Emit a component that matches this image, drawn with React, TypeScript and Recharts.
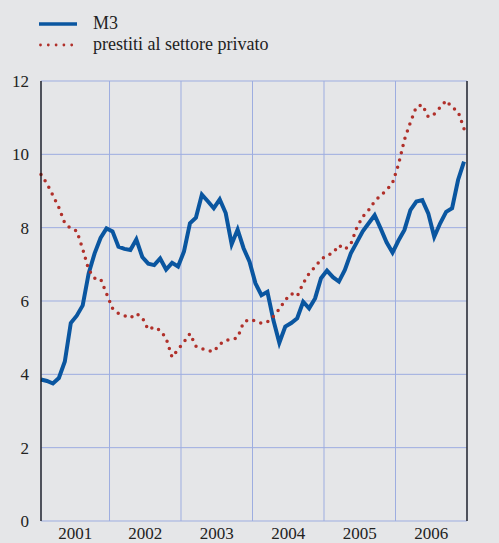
import React from "react";
import {
  CartesianGrid,
  Line,
  LineChart,
  XAxis,
  YAxis,
} from "recharts";

// monthly observations, Jan 2001 - Dec 2006
const m3 = [
  3.86, 3.82, 3.75, 3.9, 4.35, 5.4, 5.6, 5.88, 6.75, 7.3, 7.72, 7.98,
  7.9, 7.48, 7.42, 7.39, 7.68, 7.2, 7.02, 6.98, 7.16, 6.86, 7.04, 6.94,
  7.35, 8.12, 8.27, 8.9, 8.72, 8.53, 8.77, 8.4, 7.55, 7.95, 7.44, 7.07,
  6.48, 6.16, 6.25, 5.48, 4.86, 5.3, 5.4, 5.53, 5.98, 5.8, 6.07, 6.62,
  6.83, 6.65, 6.53, 6.85, 7.3, 7.6, 7.9, 8.12, 8.34, 7.98, 7.6, 7.32,
  7.65, 7.94, 8.48, 8.71, 8.75, 8.39, 7.75, 8.12, 8.43, 8.53, 9.3, 9.8,
];

const prestiti = [
  9.45, 9.2, 8.88, 8.55, 8.12, 7.98, 7.91, 7.42, 6.85, 6.62, 6.6, 6.2,
  5.8, 5.66, 5.6, 5.54, 5.66, 5.55, 5.22, 5.29, 5.2, 4.98, 4.47, 4.68,
  4.88, 5.11, 4.77, 4.7, 4.65, 4.62, 4.82, 4.93, 4.95, 5.0, 5.42, 5.5,
  5.45, 5.39, 5.43, 5.58, 5.78, 6.03, 6.2, 6.13, 6.48, 6.75, 6.93, 7.13,
  7.25, 7.3, 7.52, 7.41, 7.55, 8.0, 8.3, 8.48, 8.72, 8.88, 9.02, 9.22,
  9.72, 10.4, 10.87, 11.3, 11.35, 11.02, 11.1, 11.28, 11.47, 11.28, 11.17, 10.7,
];

const years = ["2001", "2002", "2003", "2004", "2005", "2006"];
const yearBounds = [0, 11.5, 23.5, 35.5, 47.5, 59.5, 71.5];
const yearCenters = [5.75, 17.5, 29.5, 41.5, 53.5, 65.5];
const yTicks = [0, 2, 4, 6, 8, 10, 12];

const data = m3.map((v, i) => ({ i, m3: v, prestiti: prestiti[i] }));

const BLUE = "#0a56a0";
const RED = "#b0302a";
const GRID = "#9dade0";
const FONT = "Liberation Serif, serif";

function LegendBox() {
  return (
    <div
      style={{
        position: "absolute",
        left: 39,
        top: 13,
        fontFamily: FONT,
        fontSize: 18,
        color: "#222",
        lineHeight: "21px",
      }}
    >
      <div style={{ display: "flex", alignItems: "center" }}>
        <svg width={54} height={21}>
          <line x1={0} x2={38} y1={11} y2={11} stroke={BLUE} strokeWidth={3.5} />
        </svg>
        <span>M3</span>
      </div>
      <div style={{ display: "flex", alignItems: "center" }}>
        <svg width={54} height={21}>
          <line
            x1={1.5}
            x2={38}
            y1={11}
            y2={11}
            stroke={RED}
            strokeWidth={2.8}
            strokeLinecap="round"
            strokeDasharray="0 7.8"
          />
        </svg>
        <span>prestiti al settore privato</span>
      </div>
    </div>
  );
}

export default function App() {
  const tick = { fontSize: 17, fill: "#222", fontFamily: FONT };
  return (
    <div style={{ position: "relative", width: 499, height: 543, background: "#e5e6e8" }}>
      <style>{"body{margin:0}"}</style>
      <LegendBox />
      <LineChart
        width={499}
        height={543}
        data={data}
        margin={{ top: 81, right: 0, bottom: 0, left: 0 }}
      >
        <CartesianGrid xAxisId="b" yAxisId="l" stroke={GRID} strokeWidth={1} />
        <XAxis
          xAxisId="b"
          dataKey="i"
          type="number"
          domain={[0, 71.5]}
          ticks={yearBounds}
          tickFormatter={() => ""}
          interval={0}
          height={0}
          tickSize={5}
          axisLine={{ stroke: "#111", strokeWidth: 1.3 }}
          tickLine={{ stroke: "#111", strokeWidth: 1.3 }}
        />
        <XAxis
          xAxisId="c"
          dataKey="i"
          type="number"
          domain={[0, 71.5]}
          ticks={yearCenters}
          tickFormatter={(v: number) => years[yearCenters.indexOf(v)] ?? ""}
          height={22}
          axisLine={false}
          tickLine={false}
          tickSize={4}
          tickMargin={2}
          tick={tick}
          interval={0}
        />
        <YAxis
          yAxisId="l"
          domain={[0, 12]}
          ticks={yTicks}
          width={41}
          tickLine={false}
          tickSize={6}
          tickMargin={6}
          axisLine={{ stroke: "#111", strokeWidth: 1.3 }}
          tick={tick}
        />
        <YAxis
          yAxisId="r"
          orientation="right"
          domain={[0, 12]}
          ticks={yTicks}
          width={32}
          tickLine={false}
          tickSize={6}
          tickMargin={7}
          axisLine={{ stroke: "#111", strokeWidth: 1.3 }}
          tick={{ ...tick, textAnchor: "start" }}
        />
        <Line
          xAxisId="b"
          yAxisId="l"
          type="linear"
          dataKey="m3"
          stroke={BLUE}
          strokeWidth={4}
          dot={false}
          isAnimationActive={false}
        />
        <Line
          xAxisId="b"
          yAxisId="l"
          type="linear"
          dataKey="prestiti"
          stroke={RED}
          strokeWidth={3.5}
          strokeLinecap="round"
          strokeDasharray="0 7.5"
          dot={false}
          isAnimationActive={false}
        />
      </LineChart>
    </div>
  );
}
